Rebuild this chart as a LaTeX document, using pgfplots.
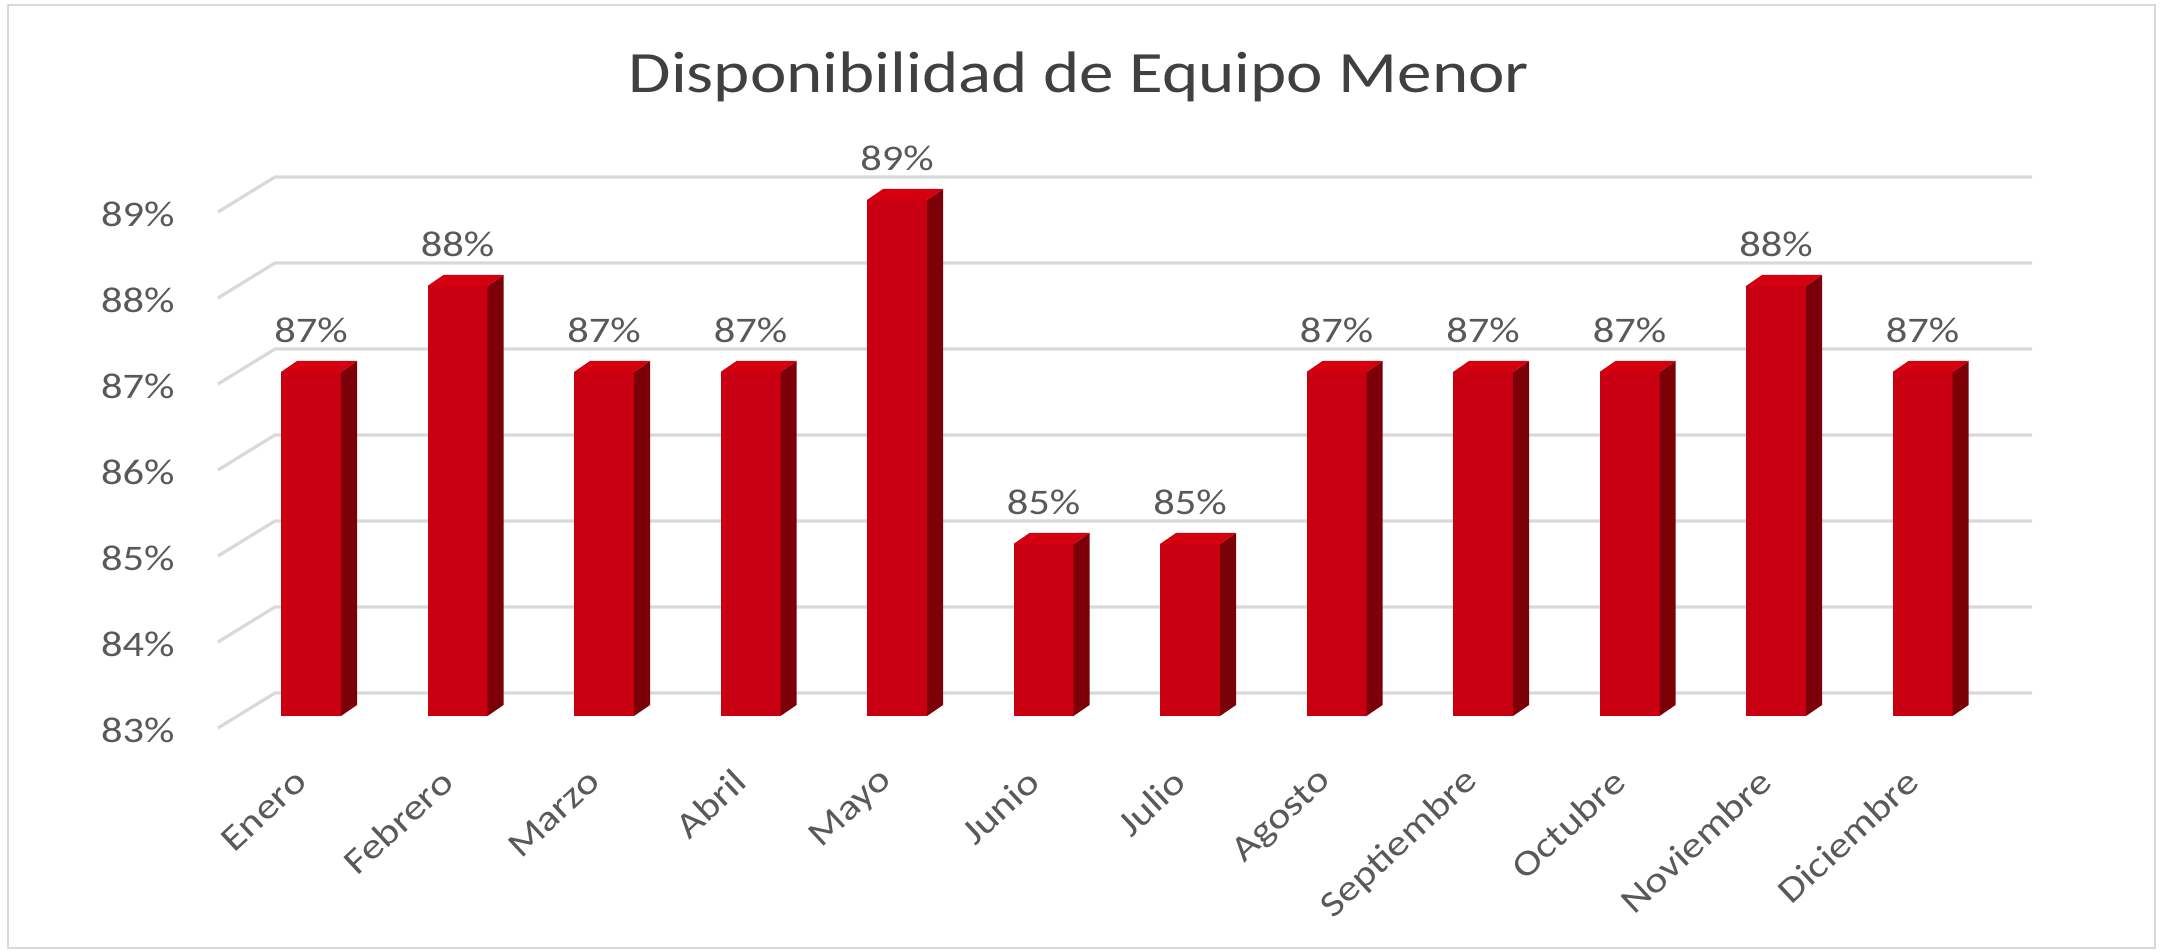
\documentclass[border=0pt]{standalone}
\usepackage{fontspec}
\setmainfont{Carlito}[FakeStretch=1.18]
\usepackage{pgfplots}
\usepackage{pgfplotstable}
\pgfplotsset{compat=1.18}

\definecolor{barfront}{HTML}{C80012}
\definecolor{bartop}{HTML}{D5000F}
\definecolor{barside}{HTML}{7C0008}
\definecolor{gridgray}{HTML}{D9D9D9}
\definecolor{framegray}{HTML}{D9D9D9}
\definecolor{labelgray}{HTML}{595959}
\definecolor{titlegray}{HTML}{404040}

% Monthly availability of minor equipment (%)
\pgfplotstableread{
idx value
0  87
1  88
2  87
3  87
4  89
5  85
6  85
7  87
8  87
9  87
10 88
11 87
}\availability

% A prism bar whose top front edge sits on the data point; its height
% reaches down to the 83 % floor (43pt per percentage point).
\pgfdeclareplotmark{prism}{%
  \pgfmathsetmacro\barh{(\valy-83)*43}%
  \pgfsetfillcolor{barfront}%
  \pgfpathrectanglecorners{\pgfpoint{-15pt}{0pt}}{\pgfpoint{15pt}{-\barh pt}}%
  \pgfusepath{fill}%
  \pgfsetfillcolor{barside}%
  \pgfpathmoveto{\pgfpoint{15pt}{0pt}}%
  \pgfpathlineto{\pgfpoint{23pt}{5.5pt}}%
  \pgfpathlineto{\pgfpoint{23pt}{5.5pt-\barh pt}}%
  \pgfpathlineto{\pgfpoint{15pt}{-\barh pt}}%
  \pgfpathclose
  \pgfusepath{fill}%
  \pgfsetfillcolor{bartop}%
  \pgfpathmoveto{\pgfpoint{-15pt}{0pt}}%
  \pgfpathlineto{\pgfpoint{-7pt}{5.5pt}}%
  \pgfpathlineto{\pgfpoint{23pt}{5.5pt}}%
  \pgfpathlineto{\pgfpoint{15pt}{0pt}}%
  \pgfpathclose
  \pgfusepath{fill}%
}

\newcommand{\labelfont}{\fontsize{18pt}{20pt}\selectfont}

\begin{document}
\begin{tikzpicture}
\useasboundingbox (0,0) rectangle (1082pt,476pt);
\draw[framegray, line width=1.2pt] (4pt,2pt) rectangle (1077.5pt,473.5pt);
\node[anchor=base, text=titlegray, font=\fontsize{29.25pt}{34pt}\selectfont]
  at (539.5pt,429.5pt) {Disponibilidad de Equipo Menor};

\begin{axis}[
  at={(118.875pt,118pt)}, anchor=south west,
  scale only axis, width=879pt, height=258pt,
  xmin=-0.5, xmax=11.5, ymin=83, ymax=89,
  clip=false,
  axis line style={draw=none}, tick style={draw=none},
  major tick length=0pt,
  /pgf/number format/assume math mode=true,
  xtick={0,...,11},
  xticklabels={Enero,Febrero,Marzo,Abril,Mayo,Junio,Julio,Agosto,Septiembre,Octubre,Noviembre,Diciembre},
  xticklabel style={anchor=east, inner sep=0pt, font=\labelfont, text=labelgray,
                    xshift=-5pt, yshift=-30pt, rotate=43},
  ytick={83,...,89},
  yticklabel={\pgfmathprintnumber{\tick}\%},
  yticklabel style={anchor=east, inner sep=0pt, font=\labelfont, text=labelgray,
                    xshift=-31.4pt, yshift=-7pt},
]

% back wall gridlines with their receding left edge
\pgfplotsinvokeforeach{83,...,89}{
  \draw[gridgray, line width=1.6pt]
    ([yshift=-6pt]axis cs:-0.6348,#1) -- ([yshift=11.5pt]axis cs:-0.2457,#1)
    -- ([yshift=11.5pt]axis cs:11.7474,#1);
}

% prism bars with their value labels
\addplot[
  only marks, mark=prism,
  point meta=\thisrow{value},
  visualization depends on={\thisrow{value} \as \valy},
  nodes near coords={\pgfmathprintnumber{\pgfplotspointmeta}\%},
  every node near coord/.append style={anchor=center, yshift=21pt,
    font=\labelfont, text=labelgray, inner sep=0pt},
] table[x=idx, y=value] {\availability};

\end{axis}
\end{tikzpicture}
\end{document}
